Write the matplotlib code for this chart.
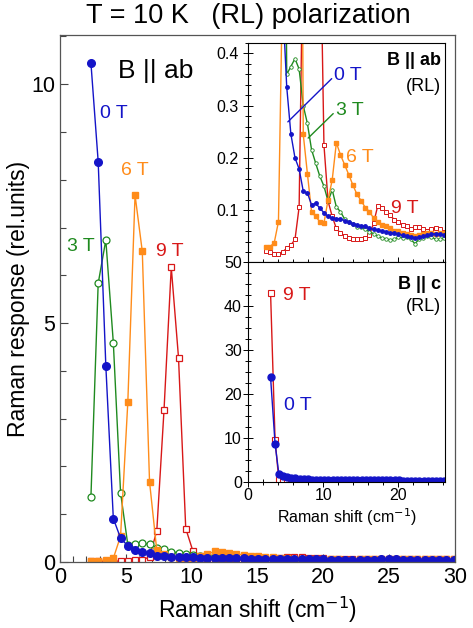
import matplotlib
matplotlib.use("Agg")
import matplotlib.pyplot as plt
from matplotlib.ticker import MultipleLocator

plt.rcParams['font.family'] = ['Liberation Sans', 'DejaVu Sans']

# Raman shift grid (cm^-1), B || ab
shift = [2.35, 2.9, 3.48, 4.05, 4.6, 5.15, 5.7, 6.25, 6.8, 7.35, 7.9, 8.45, 9.0, 9.55, 10.1,
         10.65, 11.2, 11.75, 12.3, 12.85, 13.4, 13.95, 14.5, 15.05, 15.6, 16.15, 16.7, 17.25,
         17.8, 18.35, 18.9, 19.45, 20.0, 20.55, 21.1, 21.65, 22.2, 22.75, 23.3, 23.85, 24.4,
         24.95, 25.5, 26.05, 26.6, 27.15, 27.7, 28.25, 28.8, 29.35, 29.9]

ab_0T = [10.44, 8.38, 4.11, 0.91, 0.50, 0.336, 0.246, 0.20, 0.179, 0.136,
         0.133, 0.11, 0.113, 0.104, 0.095, 0.088, 0.085, 0.084, 0.083, 0.08,
         0.077, 0.074, 0.072, 0.07, 0.069, 0.066, 0.063, 0.062, 0.06, 0.059,
         0.057, 0.056, 0.054, 0.052, 0.051, 0.049, 0.047, 0.048, 0.05, 0.052,
         0.054, 0.055, 0.054, 0.052, 0.052, 0.051, 0.05, 0.05, 0.049, 0.05, 0.049]
ab_3T = [1.37, 5.83, 6.74, 4.59, 1.45, 0.36, 0.375, 0.39, 0.37, 0.30,
         0.266, 0.216, 0.19, 0.165, 0.146, 0.117, 0.139, 0.106, 0.097, 0.083,
         0.077, 0.074, 0.068, 0.068, 0.063, 0.059, 0.055, 0.05, 0.047, 0.045,
         0.043, 0.044, 0.049, 0.047, 0.049, 0.044, 0.036, 0.044, 0.047, 0.05,
         0.049, 0.044, 0.044, 0.047, 0.046, 0.045, 0.045, 0.044, 0.045, 0.044, 0.044]
ab_6T = [0.03, 0.03, 0.037, 0.078, 0.54, 3.34, 7.68, 6.5, 1.68, 0.245,
         0.17, 0.097, 0.088, 0.078, 0.075, 0.12, 0.158, 0.229, 0.206, 0.187,
         0.168, 0.148, 0.13, 0.118, 0.105, 0.097, 0.085, 0.078, 0.072, 0.07,
         0.066, 0.06, 0.06, 0.057, 0.055, 0.052, 0.05, 0.053, 0.055, 0.057,
         0.057, 0.055, 0.056, 0.057, 0.056, 0.055, 0.055, 0.054, 0.055, 0.054, 0.055]
ab_9T = [0.022, 0.019, 0.016, 0.017, 0.02, 0.027, 0.033, 0.044, 0.106, 0.65,
         3.18, 6.17, 4.28, 0.70, 0.225, 0.117, 0.088, 0.065, 0.056, 0.051,
         0.047, 0.045, 0.045, 0.045, 0.046, 0.052, 0.075, 0.108, 0.105, 0.097,
         0.09, 0.082, 0.078, 0.071, 0.069, 0.064, 0.067, 0.067, 0.064, 0.061,
         0.063, 0.065, 0.063, 0.058, 0.057, 0.056, 0.055, 0.055, 0.054, 0.055, 0.054]

# B || c
shift_c = [3.0, 3.6, 4.1, 4.65, 5.2, 5.75, 6.3, 6.85, 7.4, 7.95, 8.5, 9.05, 9.6, 10.15, 10.7,
           11.25, 11.8, 12.35, 12.9, 13.45, 14.0, 14.55, 15.1, 15.65, 16.2, 16.75, 17.3, 17.85,
           18.4, 18.95, 19.5, 20.05, 20.6, 21.15, 21.7, 22.25, 22.8, 23.35, 23.9, 24.45, 25.0,
           25.55, 26.1]
c_0T = [23.9, 8.7, 1.9, 1.3, 1.05, 0.9, 0.8, 0.72, 0.66, 0.6,
        0.56, 0.53, 0.5, 0.48, 0.46, 0.45, 0.44, 0.43, 0.42, 0.41,
        0.4, 0.4, 0.39, 0.38, 0.38, 0.37, 0.37, 0.36, 0.36, 0.35,
        0.35, 0.35, 0.34, 0.34, 0.34, 0.33, 0.33, 0.33, 0.32, 0.32,
        0.32, 0.31, 0.31]
c_9T = [43.1, 9.6, 0.45, 0.3, 0.2, 0.16, 0.14, 0.13, 0.12, 0.12,
        0.11, 0.11, 0.11, 0.11, 0.11, 0.1, 0.1, 0.1, 0.1, 0.1,
        0.1, 0.1, 0.1, 0.1, 0.1, 0.1, 0.1, 0.1, 0.1, 0.1,
        0.1, 0.1, 0.1, 0.1, 0.1, 0.1, 0.1, 0.1, 0.1, 0.1,
        0.1, 0.1, 0.1]

blue = '#1414c8'
green = '#1f8a1f'
orange = '#ff8c1a'
red = '#d81818'

W, H = 473, 628
fig = plt.figure(figsize=(W / 100, H / 100), dpi=100)


def frac(x0, y0, x1, y1):
    # pixel box (top-left origin) -> figure fraction rect
    return [x0 / W, 1 - y1 / H, (x1 - x0) / W, (y1 - y0) / H]


# main axes
ax = fig.add_axes(frac(60, 35, 455, 562))
ax.plot(shift, ab_9T, '-s', color=red, mfc='white', mec=red, ms=5, lw=1, mew=0.9)
ax.plot(shift, ab_3T, '-o', color=green, mfc='white', mec=green, ms=5, lw=1, mew=0.9)
ax.plot(shift, ab_6T, '-s', color=orange, mec=orange, ms=5, lw=1)
ax.plot(shift, ab_0T, '-o', color=blue, mec=blue, ms=5.5, lw=1)
ax.set_xlim(0, 30)
ax.set_ylim(0, 11.03)
ax.xaxis.set_major_locator(MultipleLocator(5))
ax.xaxis.set_minor_locator(MultipleLocator(1))
ax.yaxis.set_major_locator(MultipleLocator(5))
ax.yaxis.set_minor_locator(MultipleLocator(1))
ax.tick_params(which='both', direction='in', labelsize=15.5, width=0.8, color='#444')
ax.tick_params(which='major', length=6)
ax.tick_params(which='minor', length=4)
for s in ax.spines.values():
    s.set_color('#555')
    s.set_linewidth(0.9)
ax.set_xlabel('Raman shift (cm$^{-1}$)', fontsize=16.5, labelpad=5)
ax.set_ylabel('Raman response (rel.units)', fontsize=16.5)
ax.yaxis.set_label_coords(-0.075, 0.5)

ax.text(0.148, 0.955, 'B || ab', transform=ax.transAxes, fontsize=19, va='top')
ax.text(3.0, 9.3, '0 T', color=blue, fontsize=14)
ax.text(4.65, 8.1, '6 T', color=orange, fontsize=14)
ax.text(0.55, 6.5, '3 T', color=green, fontsize=14)
ax.text(7.3, 6.4, '9 T', color=red, fontsize=14)

fig.text(248 / W, 1 - 16 / H, 'T = 10 K   (RL) polarization', fontsize=19.5,
         ha='center', va='center')

# white panel behind the insets
panel = fig.add_axes(frac(205, 37, 454, 540))
panel.set_xticks([])
panel.set_yticks([])
for s in panel.spines.values():
    s.set_visible(False)

# inset: B || ab zoom
ia = fig.add_axes(frac(248, 43, 445, 262.4))
ia.plot(shift, ab_9T, '-s', color=red, mfc='white', mec=red, ms=3, lw=1, mew=0.7)
ia.plot(shift, ab_3T, '-o', color=green, mfc='white', mec=green, ms=2.5, lw=1, mew=0.6)
ia.plot(shift, ab_6T, '-s', color=orange, mec=orange, ms=2.5, lw=1)
ia.plot(shift, ab_0T, '-o', color=blue, mec=blue, ms=2.5, lw=1)
ia.set_xlim(0, 26.2)
ia.set_ylim(0, 0.42)
ia.set_yticks([0.1, 0.2, 0.3, 0.4])
ia.yaxis.set_minor_locator(MultipleLocator(0.02))
ia.xaxis.set_major_locator(MultipleLocator(10))
ia.xaxis.set_minor_locator(MultipleLocator(2))
ia.tick_params(labelbottom=False)
ia.tick_params(which='both', direction='inout', labelsize=11.5, width=0.7)
ia.tick_params(which='major', length=7)
ia.tick_params(which='minor', length=5)
ia.text(0.98, 0.96, 'B || ab', transform=ia.transAxes, fontsize=13,
        fontweight='bold', ha='right', va='top')
ia.text(0.98, 0.84, '(RL)', transform=ia.transAxes, fontsize=13, ha='right', va='top')
ia.annotate('0 T', xy=(5.3, 0.269), xytext=(11.5, 0.357), color=blue, fontsize=14,
            va='center', arrowprops=dict(arrowstyle='-', color=blue, lw=1,
                                         shrinkA=0, shrinkB=0, relpos=(0, 0.5)))
ia.annotate('3 T', xy=(8.0, 0.238), xytext=(11.7, 0.29), color=green, fontsize=14,
            va='center', arrowprops=dict(arrowstyle='-', color=green, lw=1,
                                         shrinkA=0, shrinkB=0, relpos=(0, 0.5)))
ia.text(13.0, 0.2, '6 T', color=orange, fontsize=14, va='center')
ia.text(19.0, 0.103, '9 T', color=red, fontsize=14, va='center')

# inset: B || c
ic = fig.add_axes(frac(248, 262.4, 445, 482))
ic.plot(shift_c, c_9T, '-s', color=red, mfc='white', mec=red, ms=4.5, lw=1, mew=0.8)
ic.plot(shift_c, c_0T, '-o', color=blue, mec=blue, ms=5, lw=1)
ic.set_xlim(0, 26.2)
ic.set_ylim(0, 50)
ic.xaxis.set_major_locator(MultipleLocator(10))
ic.xaxis.set_minor_locator(MultipleLocator(2))
ic.yaxis.set_major_locator(MultipleLocator(10))
ic.yaxis.set_minor_locator(MultipleLocator(2.5))
ic.tick_params(which='both', direction='inout', labelsize=11.5, width=0.7, pad=1)
ic.tick_params(which='major', length=7)
ic.tick_params(which='minor', length=5)
ic.set_xlabel('Raman shift (cm$^{-1}$)', fontsize=11.5, labelpad=2)
ic.text(0.98, 0.94, 'B || c', transform=ic.transAxes, fontsize=13,
        fontweight='bold', ha='right', va='top')
ic.text(0.98, 0.84, '(RL)', transform=ic.transAxes, fontsize=13, ha='right', va='top')
ic.text(4.6, 42.5, '9 T', color=red, fontsize=14, va='center')
ic.text(4.8, 17.5, '0 T', color=blue, fontsize=14, va='center')

fig.savefig('out.png', dpi=100)
